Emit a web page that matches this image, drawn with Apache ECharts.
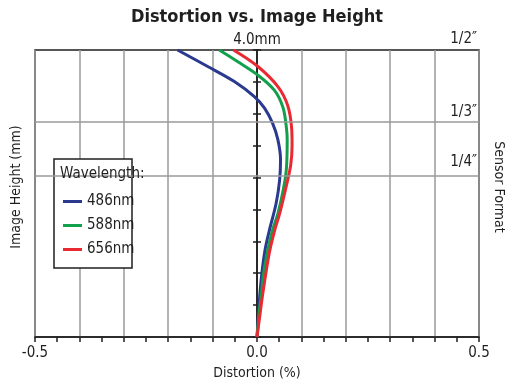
<!DOCTYPE html>
<html>
<head>
<meta charset="utf-8">
<script src="https://cdn.jsdelivr.net/npm/echarts@6/dist/echarts.min.js"></script>
<style>
html,body{margin:0;padding:0;background:#fff;}
#chart{width:514px;height:391px;}
</style>
</head>
<body>
<div id="chart"></div>
<script>
// ---- data ----
var seriesNames = ['486nm', '588nm', '656nm'];
var seriesColors = ['#2b3a8f', '#12a04c', '#ea2a33'];

// image height (mm) and distortion (%) for each wavelength
var h486 = [0, 0.28, 0.56, 0.89, 1.21, 1.49, 1.86, 2.19, 2.47, 2.75, 2.98, 3.19, 3.35, 3.56, 3.77, 4.0];
var d486 = [0, 0.003, 0.006, 0.011, 0.018, 0.028, 0.043, 0.051, 0.053, 0.047, 0.035, 0.017, -0.006, -0.051, -0.111, -0.179];

var h588 = [0, 0.28, 0.56, 0.89, 1.21, 1.49, 1.72, 2.05, 2.33, 2.75, 2.98, 3.21, 3.44, 3.65, 3.84, 4.0];
var d588 = [0, 0.004, 0.009, 0.015, 0.024, 0.035, 0.047, 0.059, 0.066, 0.068, 0.065, 0.058, 0.039, 0.002, -0.044, -0.085];

var h656 = [0, 0.28, 0.56, 0.89, 1.21, 1.49, 1.72, 2.05, 2.40, 2.68, 2.91, 3.23, 3.49, 3.77, 4.0];
var d656 = [0, 0.006, 0.012, 0.020, 0.029, 0.040, 0.051, 0.064, 0.076, 0.079, 0.078, 0.069, 0.047, 0.002, -0.053];

// sensor format lines (image height in mm) and labels
var sensorHeights = [4.0, 3.0, 2.25];
var sensorLabels = ['1/2\u2033', '1/3\u2033', '1/4\u2033'];

// x axis tick labels that are shown
var xTickLabels = ['-0.5', '0.0', '0.5'];
var xMin = -0.5, xMax = 0.5, xInterval = 0.1;
var yMin = 0, yMax = 4.0, yTickInterval = 4.0 / 9;
var topLabel = '4.0mm';

// ---- chart ----
var FONT = "'Liberation Sans Narrow', 'DejaVu Sans Condensed', 'Roboto', sans-serif";
var INK = '#1f1f1f';

function zip(xs, ys) {
  return xs.map(function (x, i) { return [x, ys[i]]; });
}
var seriesData = [zip(d486, h486), zip(d588, h588), zip(d656, h656)];

var chart = echarts.init(document.getElementById('chart'), null, {renderer: 'canvas'});

var lineSeries = seriesData.map(function (data, i) {
  return {
    name: seriesNames[i],
    type: 'line',
    xAxisIndex: 0,
    yAxisIndex: 0,
    data: data,
    smooth: 0.35,
    symbol: 'none',
    z: 3,
    lineStyle: {color: seriesColors[i], width: 3},
    itemStyle: {color: seriesColors[i]}
  };
});

var labelDist = [3, 2, 6];
var markSeries = {
  name: 'sensor',
  type: 'line',
  xAxisIndex: 0,
  yAxisIndex: 0,
  data: [],
  z: 1,
  silent: true,
  markLine: {
    silent: true,
    symbol: ['none', 'none'],
    animation: false,
    data: sensorHeights.map(function (v, i) {
      return {
        yAxis: v,
        lineStyle: i === 0 ? {color: 'rgba(0,0,0,0)', width: 0} : {color: '#9a9a9a', width: 1.5, type: 'solid'},
        label: {
          show: true,
          position: 'insideEndTop',
          formatter: sensorLabels[i],
          distance: [2, labelDist[i]],
          color: INK,
          fontFamily: FONT,
          fontSize: 15
        }
      };
    })
  }
};

var option = {
  animation: false,
  backgroundColor: '#fff',
  textStyle: {fontFamily: FONT, color: INK},
  title: {
    text: 'Distortion vs. Image Height',
    left: 'center',
    top: 3,
    textStyle: {fontFamily: FONT, fontSize: 18, fontWeight: 'bold', color: INK}
  },
  grid: {
    left: 35, right: 33, top: 50, bottom: 54,
    show: true, borderColor: INK, borderWidth: 1.5, backgroundColor: '#fff'
  },
  legend: {
    data: seriesNames,
    orient: 'vertical',
    left: 58,
    top: 189,
    icon: 'rect',
    itemWidth: 19,
    itemHeight: 3,
    itemGap: 9,
    z: 6,
    textStyle: {fontFamily: FONT, fontSize: 15, color: INK}
  },
  graphic: [
    {
      type: 'rect', z: 5,
      shape: {x: 54, y: 159, width: 78, height: 109},
      style: {fill: '#fff', stroke: INK, lineWidth: 1.5}
    },
    {
      type: 'text', z: 6,
      left: 60, top: 167,
      style: {text: 'Wavelength:', fill: INK, font: '15px ' + FONT}
    }
  ],
  xAxis: [{
    type: 'value',
    min: xMin, max: xMax, interval: xInterval,
    name: 'Distortion (%)',
    nameLocation: 'middle',
    nameGap: 29,
    nameTextStyle: {fontFamily: FONT, fontSize: 14, color: INK},
    axisLine: {show: true, onZero: false, lineStyle: {color: INK, width: 1.5}},
    axisTick: {show: true, length: 5, lineStyle: {color: INK, width: 1.5}},
    minorTick: {show: true, splitNumber: 2, length: 5, lineStyle: {color: INK, width: 1.5}},
    splitLine: {show: true, lineStyle: {color: '#9a9a9a', width: 1.5}},
    axisLabel: {
      margin: 9,
      fontFamily: FONT, fontSize: 15, color: INK,
      formatter: function (v) {
        var s = Math.abs(v) < 1e-9 ? '0.0' : v.toFixed(1);
        return xTickLabels.indexOf(s) >= 0 ? s : '';
      }
    }
  }],
  yAxis: [
    {
      type: 'value', position: 'left',
      min: yMin, max: yMax, interval: yTickInterval,
      name: topLabel, nameLocation: 'end', nameGap: 2,
      nameTextStyle: {fontFamily: FONT, fontSize: 15, color: INK, align: 'center'},
      axisLine: {show: true, onZero: true, lineStyle: {color: INK, width: 1.5}},
      axisTick: {show: true, length: 4, lineStyle: {color: INK, width: 1.5}},
      axisLabel: {show: false},
      splitLine: {show: false}
    },
    {
      type: 'value', position: 'right',
      min: yMin, max: yMax, interval: yTickInterval,
      axisLine: {show: true, onZero: true, onZeroAxisIndex: 0, lineStyle: {color: INK, width: 1.5}},
      axisTick: {show: true, length: 4, lineStyle: {color: INK, width: 1.5}},
      axisLabel: {show: false},
      splitLine: {show: false}
    },
    {
      type: 'value', position: 'left',
      min: yMin, max: yMax,
      name: 'Image Height (mm)', nameLocation: 'middle', nameGap: 12,
      nameRotate: 90,
      nameTextStyle: {fontFamily: FONT, fontSize: 14, color: INK, padding: [0, 0, 0, 13]},
      axisLine: {show: false, onZero: false},
      axisTick: {show: false}, axisLabel: {show: false}, splitLine: {show: false}
    },
    {
      type: 'value', position: 'right',
      min: yMin, max: yMax,
      name: 'Sensor Format', nameLocation: 'middle', nameGap: 13,
      nameRotate: -90,
      nameTextStyle: {fontFamily: FONT, fontSize: 14, color: INK, padding: [0, 13, 0, 0]},
      axisLine: {show: false, onZero: false},
      axisTick: {show: false}, axisLabel: {show: false}, splitLine: {show: false}
    }
  ],
  series: [markSeries].concat(lineSeries)
};

chart.setOption(option);
</script>
</body>
</html>
